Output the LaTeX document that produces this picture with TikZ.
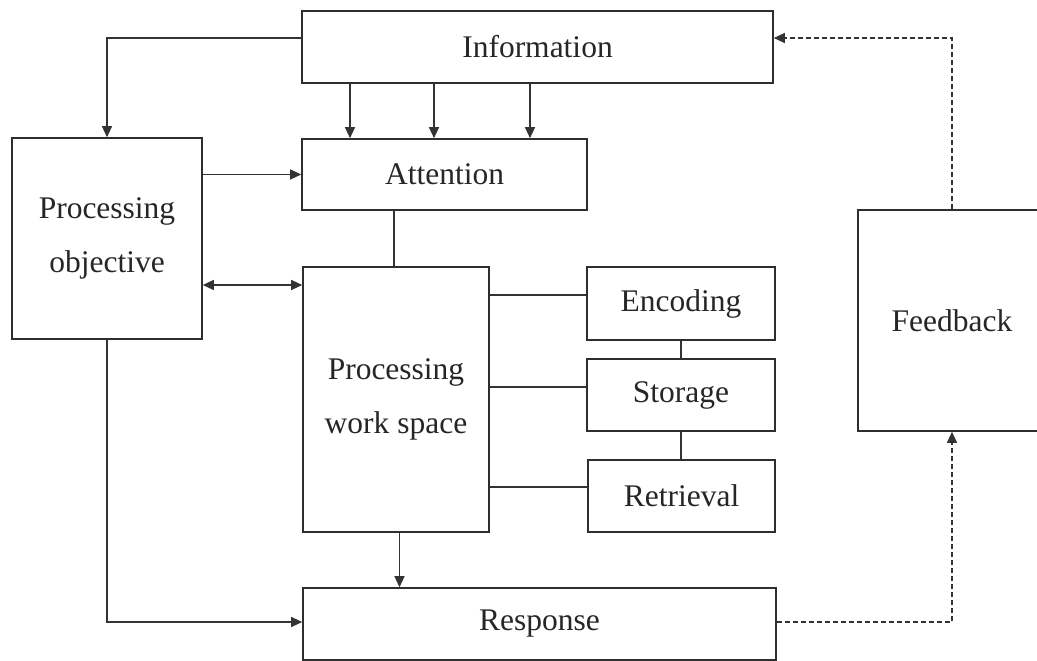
\documentclass[tikz,border=0pt]{standalone}
\usepackage{fontspec}
\setmainfont{Liberation Serif}
\usetikzlibrary{arrows.meta}

\begin{document}
\begin{tikzpicture}[x=1pt, y=-1pt,
  box/.style={draw=black!82, line width=1.6pt, inner sep=0pt, align=center,
    text=black!85, font=\fontsize{31.5}{54}\selectfont},
  link/.style={draw=black!80, line width=1.2pt},
  tip/.style={Triangle[length=11pt, width=10pt]},
  arr/.style={link, -{Triangle[length=11pt, width=10pt]}},
  biarr/.style={link, {Triangle[length=11pt, width=10pt]}-{Triangle[length=11pt, width=10pt]}},
  fbline/.style={arr, dash pattern=on 5pt off 3pt}]
\useasboundingbox (0,0) rectangle (1037,661);

% boxes
\node[box, minimum width=471pt, minimum height=72pt] (info) at (537.5,47) {Information};
\node[box, minimum width=285pt, minimum height=71pt] (att) at (444.5,174.5) {Attention};
\node[box, minimum width=190pt, minimum height=201pt] (obj) at (107,238.5) {Processing\\objective};
\node[box, minimum width=186pt, minimum height=265pt] (pws) at (396,399.5) {Processing\\work space};
\node[box, minimum width=188pt, minimum height=73pt] (enc) at (681,303.5) {Encoding};
\node[box, minimum width=188pt, minimum height=72pt] (sto) at (681,395) {Storage};
\node[box, minimum width=187pt, minimum height=72pt] (ret) at (681.5,496) {Retrieval};
\node[box, minimum width=473pt, minimum height=72pt] (resp) at (539.5,624) {Response};
\node[box, minimum width=188pt, minimum height=221pt] (fb) at (952,320.5) {Feedback};

% information flow
\draw[arr] ([yshift=9pt]info.west) -| (obj.north);
\draw[arr] (info.south -| 350,0) -- (att.north -| 350,0);
\draw[arr] (info.south -| 434,0) -- (att.north -| 434,0);
\draw[arr] (info.south -| 530,0) -- (att.north -| 530,0);
\draw[arr] (obj.east |- att.west) -- (att.west);
\draw[biarr] (obj.east |- 0,285) -- (pws.west |- 0,285);
\draw[link] (att.south -| 394,0) -- (pws.north -| 394,0);

% memory stages
\draw[link] (pws.east |- 0,295) -- (enc.west |- 0,295);
\draw[link] (pws.east |- 0,387) -- (sto.west |- 0,387);
\draw[link] (pws.east |- 0,487) -- (ret.west |- 0,487);
\draw[link] (enc.south) -- (sto.north);
\draw[link] (sto.south -| 681,0) -- (ret.north -| 681,0);

% response
\draw[arr] (pws.south -| 399.5,0) -- (resp.north -| 399.5,0);
\draw[arr] (obj.south) |- ([yshift=2pt]resp.west);

% feedback loop
\draw[fbline] ([yshift=2pt]resp.east) -| (fb.south);
\draw[fbline] (fb.north) |- ([yshift=9pt]info.east);
\end{tikzpicture}
\end{document}
